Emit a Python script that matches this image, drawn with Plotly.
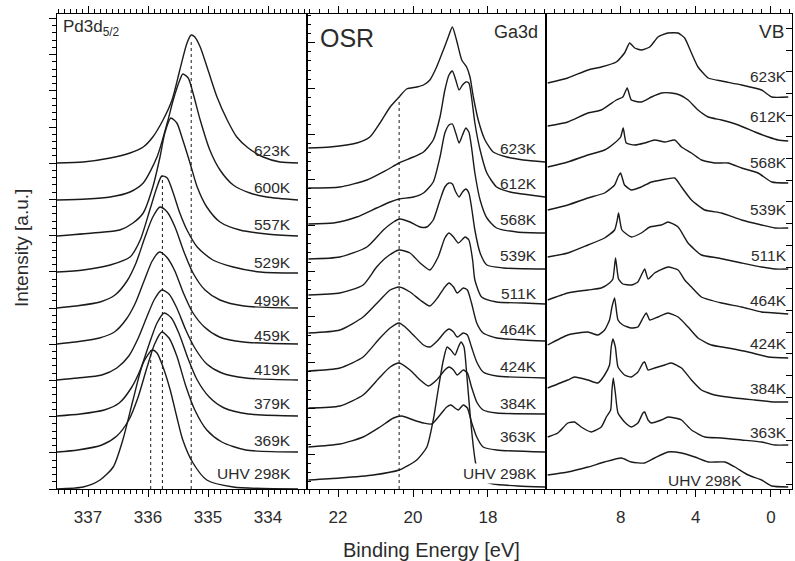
import plotly.graph_objects as go

# ---------------- Panel 1: Pd3d5/2 (binding energy eV, intensity a.u.) ----------------
pd_labels = ["623K", "600K", "557K", "529K", "499K", "459K", "419K", "379K", "369K", "UHV 298K"]

pd_623_e = [337.52, 337.08, 336.63, 336.30, 336.08, 335.92, 335.75, 335.60, 335.47, 335.35, 335.28, 335.22, 335.13, 335.00, 334.85, 334.68, 334.52, 334.33, 334.08, 333.80, 333.50]
pd_623_i = [326, 327, 331, 336, 342, 352, 369, 389, 419, 446, 454, 452, 442, 419, 392, 369, 352, 341, 332, 327, 326]
pd_600_e = [337.52, 337.02, 336.63, 336.30, 336.08, 335.85, 335.68, 335.58, 335.47, 335.42, 335.33, 335.25, 335.13, 334.97, 334.80, 334.58, 334.30, 334.02, 333.50]
pd_600_i = [289, 290, 292, 297, 306, 332, 366, 389, 409, 415, 411, 396, 369, 339, 319, 304, 296, 292, 289]
pd_557_e = [337.52, 336.92, 336.47, 336.25, 336.08, 335.92, 335.80, 335.72, 335.62, 335.52, 335.42, 335.30, 335.18, 335.02, 334.80, 334.47, 334.02, 333.50]
pd_557_i = [253, 256, 259, 266, 276, 302, 332, 356, 371, 366, 349, 326, 302, 282, 267, 259, 255, 253]
pd_529_e = [337.52, 337.08, 336.63, 336.30, 336.13, 335.97, 335.85, 335.77, 335.68, 335.58, 335.47, 335.35, 335.18, 334.92, 334.58, 334.13, 333.50]
pd_529_i = [217, 219, 224, 232, 249, 279, 302, 313, 311, 296, 276, 259, 242, 229, 222, 217, 216]
pd_499_e = [337.52, 337.20, 336.80, 336.55, 336.35, 336.20, 336.05, 335.92, 335.80, 335.68, 335.55, 335.40, 335.25, 335.05, 334.80, 334.40, 333.50]
pd_499_i = [181, 183, 187, 194, 208, 226, 252, 272, 282, 277, 262, 237, 216, 199, 189, 183, 181]
pd_459_e = [337.52, 337.21, 336.81, 336.56, 336.36, 336.21, 336.06, 335.93, 335.81, 335.69, 335.56, 335.41, 335.26, 335.06, 334.81, 334.41, 333.50]
pd_459_i = [145, 147, 151, 157, 170, 186, 209, 228, 237, 232, 219, 196, 177, 162, 152, 147, 145]
pd_419_e = [337.52, 337.17, 336.77, 336.52, 336.32, 336.17, 336.02, 335.89, 335.77, 335.65, 335.52, 335.37, 335.22, 335.02, 334.77, 334.37, 333.50]
pd_419_i = [109, 111, 114, 121, 133, 150, 172, 190, 199, 195, 181, 159, 141, 125, 116, 111, 109]
pd_379_e = [337.52, 337.13, 336.73, 336.48, 336.28, 336.13, 335.98, 335.85, 335.73, 335.61, 335.48, 335.33, 335.18, 334.98, 334.73, 334.33, 333.50]
pd_379_i = [73, 75, 79, 86, 101, 119, 145, 166, 176, 171, 155, 130, 109, 92, 81, 75, 73]
pd_369_e = [337.52, 337.17, 336.77, 336.52, 336.32, 336.17, 336.02, 335.89, 335.77, 335.65, 335.52, 335.37, 335.22, 335.02, 334.77, 334.37, 333.50]
pd_369_i = [37, 39, 44, 53, 69, 91, 121, 145, 157, 151, 133, 103, 79, 59, 47, 39, 37]
pd_uhv_e = [337.52, 337.08, 336.80, 336.58, 336.42, 336.25, 336.08, 335.93, 335.85, 335.75, 335.63, 335.52, 335.42, 335.25, 335.02, 334.58, 333.50]
pd_uhv_i = [0, 2, 9, 22, 49, 89, 126, 139, 136, 122, 99, 72, 49, 26, 9, 2, 0]

pd_ref_e = [335.955, 335.76, 335.28]
pd_ref_top = [139, 313, 450]
pd_ticks = [337, 336, 335, 334]

# ---------------- Panel 2: Ga3d ----------------
ga_labels = ["623K", "612K", "568K", "539K", "511K", "464K", "424K", "384K", "363K", "UHV 298K"]

ga_623_e = [22.79, 22.21, 21.50, 21.15, 20.88, 20.61, 20.37, 20.17, 19.90, 19.72, 19.55, 19.37, 19.19, 19.06, 18.95, 18.84, 18.70, 18.57, 18.48, 18.39, 18.26, 18.08, 17.86, 17.50, 17.06, 16.48]
ga_623_i = [341, 342, 346, 352, 366, 382, 392, 400, 402, 404, 409, 422, 439, 452, 462, 449, 429, 422, 412, 392, 369, 349, 337, 332, 329, 327]
ga_612_e = [22.79, 21.95, 21.23, 20.70, 20.37, 19.99, 19.72, 19.46, 19.28, 19.15, 19.04, 18.95, 18.86, 18.77, 18.68, 18.59, 18.51, 18.44, 18.35, 18.21, 18.03, 17.77, 17.41, 16.88, 16.48]
ga_612_i = [301, 302, 309, 319, 326, 332, 337, 349, 372, 399, 414, 418, 409, 399, 404, 407, 406, 392, 366, 339, 316, 302, 297, 294, 292]
ga_568_e = [22.79, 22.12, 21.50, 20.97, 20.61, 20.37, 19.99, 19.72, 19.46, 19.28, 19.15, 19.04, 18.95, 18.86, 18.77, 18.68, 18.59, 18.51, 18.44, 18.35, 18.21, 18.03, 17.77, 17.23, 16.48]
ga_568_i = [265, 266, 272, 281, 287, 290, 292, 296, 307, 332, 356, 364, 365, 356, 346, 354, 361, 357, 342, 316, 289, 271, 261, 257, 256]
ga_539_e = [22.79, 21.95, 21.23, 20.79, 20.52, 20.35, 20.08, 19.81, 19.63, 19.46, 19.28, 19.15, 19.04, 18.95, 18.86, 18.77, 18.68, 18.59, 18.51, 18.44, 18.35, 18.21, 18.03, 17.59, 16.48]
ga_539_i = [230, 232, 242, 259, 267, 270, 267, 262, 262, 269, 289, 302, 306, 305, 297, 292, 297, 300, 296, 282, 259, 236, 224, 221, 220]
ga_511_e = [22.79, 21.95, 21.33, 20.97, 20.70, 20.37, 20.08, 19.81, 19.55, 19.33, 19.15, 19.04, 18.92, 18.79, 18.61, 18.51, 18.41, 18.35, 18.17, 17.77, 17.06, 16.48]
ga_511_i = [194, 196, 204, 222, 232, 239, 236, 226, 219, 232, 251, 256, 252, 246, 252, 249, 229, 209, 192, 187, 186, 185]
ga_464_e = [22.79, 21.95, 21.33, 20.88, 20.61, 20.37, 20.08, 19.81, 19.55, 19.33, 19.15, 19.04, 18.92, 18.82, 18.66, 18.55, 18.44, 18.30, 18.13, 17.77, 17.06, 16.48]
ga_464_i = [156, 159, 172, 189, 199, 202, 197, 189, 183, 192, 202, 206, 202, 196, 201, 199, 186, 166, 156, 151, 149, 148]
ga_424_e = [22.79, 21.95, 21.33, 20.88, 20.61, 20.37, 20.21, 19.99, 19.72, 19.55, 19.33, 19.15, 19.04, 18.92, 18.82, 18.66, 18.55, 18.44, 18.30, 18.13, 17.77, 16.48]
ga_424_i = [118, 121, 132, 151, 161, 166, 162, 154, 144, 142, 149, 157, 160, 157, 152, 156, 154, 142, 127, 117, 113, 111]
ga_384_e = [22.79, 21.95, 21.33, 20.88, 20.61, 20.37, 20.08, 19.81, 19.59, 19.37, 19.15, 19.04, 18.92, 18.82, 18.66, 18.55, 18.44, 18.30, 18.13, 17.77, 16.48]
ga_384_i = [81, 83, 94, 112, 122, 126, 119, 109, 103, 109, 119, 122, 119, 114, 119, 116, 102, 87, 79, 76, 75]
ga_363_e = [22.79, 21.95, 21.33, 20.88, 20.52, 20.30, 19.99, 19.72, 19.50, 19.28, 19.10, 18.99, 18.88, 18.79, 18.66, 18.55, 18.44, 18.30, 18.13, 17.77, 16.48]
ga_363_i = [42, 45, 52, 62, 71, 73, 69, 66, 65, 74, 82, 84, 81, 79, 84, 81, 67, 52, 42, 39, 37]
ga_uhv_e = [22.79, 21.95, 21.06, 20.37, 19.90, 19.63, 19.46, 19.33, 19.19, 19.09, 18.99, 18.88, 18.79, 18.72, 18.64, 18.57, 18.48, 18.39, 18.33, 18.25, 18.10, 17.86, 17.20, 16.48]
ga_uhv_i = [9, 11, 14, 19, 29, 42, 69, 99, 129, 142, 139, 134, 142, 147, 142, 116, 76, 42, 26, 15, 8, 5, 3, 2]

ga_ref_e = [20.37]
ga_ref_top = [389]
ga_ticks = [22, 20, 18]

# ---------------- Panel 3: VB ----------------
vb_labels = ["623K", "612K", "568K", "539K", "511K", "464K", "424K", "384K", "363K", "UHV 298K"]

vb_623_e = [11.88, 10.81, 9.74, 9.03, 8.23, 7.79, 7.52, 7.25, 6.90, 6.45, 6.01, 5.48, 4.94, 4.59, 4.23, 3.88, 3.34, 2.63, 1.56, 0.50, -0.04, -0.92]
vb_623_i = [406, 411, 419, 422, 427, 436, 446, 441, 439, 442, 452, 456, 456, 451, 436, 422, 411, 408, 404, 399, 392, 392]
vb_612_e = [11.88, 10.81, 9.74, 9.03, 8.23, 7.88, 7.65, 7.43, 6.90, 6.36, 5.83, 5.30, 4.85, 4.41, 3.88, 3.34, 2.63, 1.74, 0.85, 0.14, -0.39, -0.92]
vb_612_i = [363, 367, 376, 379, 389, 392, 401, 389, 387, 392, 396, 396, 394, 389, 379, 372, 369, 364, 357, 352, 349, 348]
vb_568_e = [11.88, 10.81, 9.74, 8.85, 8.32, 8.00, 7.86, 7.70, 7.25, 6.72, 6.19, 5.65, 5.12, 4.76, 4.23, 3.70, 2.99, 2.28, 1.56, 0.68, -0.04, -0.92]
vb_568_i = [322, 327, 334, 339, 346, 352, 361, 346, 344, 346, 349, 347, 349, 342, 336, 329, 326, 326, 321, 316, 307, 306]
vb_539_e = [11.88, 10.81, 9.74, 8.85, 8.32, 8.14, 8.00, 7.79, 7.43, 6.90, 6.36, 5.83, 5.12, 4.76, 4.23, 3.52, 2.63, 1.56, 0.50, -0.21, -0.92]
vb_539_i = [279, 284, 291, 296, 304, 312, 316, 304, 299, 302, 307, 309, 311, 302, 289, 279, 276, 269, 264, 261, 261]
vb_511_e = [11.88, 10.81, 9.74, 8.85, 8.32, 8.18, 8.11, 7.93, 7.43, 6.90, 6.45, 5.83, 5.48, 4.94, 4.41, 3.70, 2.81, 1.56, 0.50, -0.21, -0.92]
vb_511_i = [232, 236, 244, 251, 259, 269, 276, 259, 252, 256, 262, 264, 267, 262, 246, 234, 231, 226, 222, 220, 220]
vb_464_e = [11.88, 10.81, 9.74, 9.03, 8.59, 8.41, 8.27, 8.11, 7.88, 7.43, 7.08, 6.72, 6.54, 6.19, 5.48, 4.94, 4.59, 4.23, 3.70, 2.63, 1.56, 0.50, -0.21, -0.92]
vb_464_i = [189, 196, 199, 201, 206, 210, 231, 210, 205, 204, 207, 220, 210, 216, 222, 219, 209, 202, 192, 186, 182, 177, 176, 175]
vb_424_e = [11.88, 10.81, 9.74, 9.21, 8.85, 8.59, 8.46, 8.32, 8.14, 7.88, 7.43, 7.08, 6.81, 6.63, 6.45, 6.01, 5.48, 4.94, 4.41, 3.88, 3.17, 2.28, 1.21, 0.14, -0.92]
vb_424_i = [144, 154, 157, 154, 159, 169, 182, 191, 169, 164, 161, 162, 171, 176, 169, 172, 176, 172, 162, 151, 144, 141, 137, 132, 131]
vb_384_e = [11.88, 10.81, 10.45, 9.74, 9.21, 8.85, 8.59, 8.50, 8.41, 8.28, 8.14, 7.79, 7.43, 7.08, 6.81, 6.72, 6.54, 6.19, 5.65, 5.30, 4.76, 4.23, 3.70, 2.99, 1.92, 0.85, -0.21, -0.92]
vb_384_i = [101, 109, 112, 109, 106, 114, 124, 142, 150, 142, 122, 114, 112, 117, 126, 127, 119, 121, 124, 126, 121, 109, 99, 94, 91, 89, 87, 87]
vb_363_e = [11.88, 11.34, 10.81, 10.45, 10.10, 9.56, 9.03, 8.76, 8.53, 8.46, 8.39, 8.28, 8.14, 7.79, 7.43, 7.08, 6.81, 6.72, 6.54, 6.36, 5.83, 5.48, 5.12, 4.76, 4.23, 3.52, 2.63, 1.56, 0.50, -0.21, -0.92]
vb_363_i = [52, 56, 66, 67, 62, 57, 62, 72, 79, 99, 111, 96, 76, 67, 62, 66, 76, 77, 69, 66, 69, 72, 71, 69, 59, 52, 51, 49, 47, 44, 44]
vb_uhv_e = [11.88, 10.81, 9.74, 8.85, 7.96, 7.43, 6.72, 6.19, 5.48, 4.76, 4.05, 3.34, 2.45, 1.92, 1.21, 0.50, -0.04, -0.92]
vb_uhv_i = [14, 17, 22, 27, 31, 27, 26, 31, 37, 36, 32, 27, 27, 22, 14, 9, 3, 2]

vb_ticks = [8, 4, 0]

# ---------------- assemble ----------------
pd_curves = [(pd_623_e, pd_623_i), (pd_600_e, pd_600_i), (pd_557_e, pd_557_i), (pd_529_e, pd_529_i),
             (pd_499_e, pd_499_i), (pd_459_e, pd_459_i), (pd_419_e, pd_419_i), (pd_379_e, pd_379_i),
             (pd_369_e, pd_369_i), (pd_uhv_e, pd_uhv_i)]
ga_curves = [(ga_623_e, ga_623_i), (ga_612_e, ga_612_i), (ga_568_e, ga_568_i), (ga_539_e, ga_539_i),
             (ga_511_e, ga_511_i), (ga_464_e, ga_464_i), (ga_424_e, ga_424_i), (ga_384_e, ga_384_i),
             (ga_363_e, ga_363_i), (ga_uhv_e, ga_uhv_i)]
vb_curves = [(vb_623_e, vb_623_i), (vb_612_e, vb_612_i), (vb_568_e, vb_568_i), (vb_539_e, vb_539_i),
             (vb_511_e, vb_511_i), (vb_464_e, vb_464_i), (vb_424_e, vb_424_i), (vb_384_e, vb_384_i),
             (vb_363_e, vb_363_i), (vb_uhv_e, vb_uhv_i)]

LINE = "#1a1a1a"
TXT = "#2b2b2b"
FONT = "Liberation Sans, Arial, Helvetica, sans-serif"

fig = go.Figure()

def add_curves(curves, xa, ya, smooth):
    for e, i in curves:
        fig.add_trace(go.Scatter(x=e, y=i, mode="lines", xaxis=xa, yaxis=ya,
                                 line=dict(color=LINE, width=1.4, shape="spline", smoothing=smooth),
                                 showlegend=False, hoverinfo="skip"))

def add_refs(es, tops, xa, ya):
    for e, t in zip(es, tops):
        fig.add_trace(go.Scatter(x=[e, e], y=[0, t], mode="lines", xaxis=xa, yaxis=ya,
                                 line=dict(color=LINE, width=1, dash="dot"),
                                 showlegend=False, hoverinfo="skip"))

add_refs(pd_ref_e, pd_ref_top, "x", "y")
add_refs(ga_ref_e, ga_ref_top, "x2", "y2")
add_curves(pd_curves, "x", "y", 0.7)
add_curves(ga_curves, "x2", "y2", 0.6)
add_curves(vb_curves, "x3", "y3", 0.5)

W, H = 795, 561
ydom = [(H - 489) / H, (H - 14) / H]

def xax(dom, rng, tickvals, mdtick, anchor):
    return dict(domain=dom, range=rng, anchor=anchor, tickmode="array", tickvals=tickvals,
                ticktext=[str(v) for v in tickvals],
                ticks="outside", ticklen=7, tickwidth=1, tickcolor="black",
                showline=True, linecolor="black", linewidth=1, mirror="ticks",
                showgrid=False, zeroline=False, ticklabelstandoff=6,
                tickfont=dict(family=FONT, size=17, color=TXT),
                minor=dict(dtick=mdtick, tick0=0, ticks="outside", ticklen=4,
                           tickcolor="black", showgrid=False))

fig.update_layout(
    width=W, height=H, plot_bgcolor="white", paper_bgcolor="white",
    margin=dict(l=0, r=0, t=0, b=0, autoexpand=False),
    showlegend=False,
    xaxis=xax([57 / W, 307 / W], [337.517, 333.35], pd_ticks, 0.1, "y"),
    xaxis2=xax([307 / W, 546 / W], [22.827, 16.453], ga_ticks, 0.25, "y2"),
    xaxis3=xax([546 / W, 792 / W], [11.97, -1.12], vb_ticks, 0.5, "y3"),
    yaxis=dict(domain=ydom, range=[0, 475], anchor="x", showticklabels=False,
               ticks="outside", ticklen=7, tickcolor="black", tick0=0, dtick=36.2,
               minor=dict(dtick=7.24, tick0=0, ticks="outside", ticklen=4, tickcolor="black"),
               showline=True, linecolor="black", linewidth=1, mirror=True,
               showgrid=False, zeroline=False),
    yaxis2=dict(domain=ydom, range=[0, 475], anchor="x2", showticklabels=False,
                ticks="inside", ticklen=8, tickcolor="black", tick0=35, dtick=45.7,
                minor=dict(dtick=9.14, tick0=35, ticks="inside", ticklen=4, tickcolor="black"),
                showline=True, linecolor="black", linewidth=1, mirror=True,
                showgrid=False, zeroline=False),
    yaxis3=dict(domain=ydom, range=[0, 475], anchor="x3", side="right", showticklabels=False,
                ticks="inside", ticklen=6, tickcolor="black", tick0=5, dtick=21.7,
                showline=True, linecolor="black", linewidth=1, mirror=True,
                showgrid=False, zeroline=False),
)

ann = []
# curve labels
pd_lab_y = [338, 301, 264, 227, 189, 154, 120, 86, 49, 16]
ga_lab_y = [340, 305, 269, 233, 196, 160, 123, 86, 53, 16]
vb_lab_y = [412, 372, 326, 279, 233, 189, 146, 101, 57]
lab_font = dict(family=FONT, size=15.5, color=TXT)
for t, y in zip(pd_labels, pd_lab_y):
    ann.append(dict(x=333.583, y=y, xref="x", yref="y", text=t, showarrow=False, xanchor="right",
                    yanchor="middle", font=lab_font))
for t, y in zip(ga_labels[:-1], ga_lab_y[:-1]):
    ann.append(dict(x=16.64, y=y, xref="x2", yref="y2", text=t, showarrow=False, xanchor="right",
                    yanchor="middle", font=lab_font))
ann.append(dict(x=16.64, y=ga_lab_y[-1], xref="x2", yref="y2", text=ga_labels[-1], showarrow=False,
                xanchor="right", yanchor="middle", font=lab_font, bgcolor="white", borderpad=1))
for t, y in zip(vb_labels[:-1], vb_lab_y):
    ann.append(dict(x=-0.96, y=y, xref="x3", yref="y3", text=t, showarrow=False, xanchor="right",
                    yanchor="middle", font=lab_font))
ann.append(dict(x=3.52, y=9, xref="x3", yref="y3", text=vb_labels[-1], showarrow=False,
                xanchor="center", yanchor="middle", font=lab_font))

# panel titles
ann.append(dict(x=61 / W, y=(H - 28) / H, xref="paper", yref="paper", text="Pd3d<sub>5/2</sub>",
                showarrow=False, xanchor="left", yanchor="middle", font=dict(family=FONT, size=17, color=TXT)))
ann.append(dict(x=318 / W, y=(H - 38) / H, xref="paper", yref="paper", text="OSR",
                showarrow=False, xanchor="left", yanchor="middle", font=dict(family=FONT, size=25, color=TXT)))
ann.append(dict(x=540 / W, y=(H - 32) / H, xref="paper", yref="paper", text="Ga3d",
                showarrow=False, xanchor="right", yanchor="middle", font=dict(family=FONT, size=18, color=TXT)))
ann.append(dict(x=786 / W, y=(H - 32) / H, xref="paper", yref="paper", text="VB",
                showarrow=False, xanchor="right", yanchor="middle", font=dict(family=FONT, size=19, color=TXT)))
# axis titles
ann.append(dict(x=431 / W, y=(H - 550) / H, xref="paper", yref="paper", text="Binding Energy [eV]",
                showarrow=False, xanchor="center", yanchor="middle", font=dict(family=FONT, size=20, color=TXT)))
ann.append(dict(x=22 / W, y=(H - 248) / H, xref="paper", yref="paper", text="Intensity [a.u.]",
                showarrow=False, xanchor="center", yanchor="middle", textangle=-90,
                font=dict(family=FONT, size=19, color=TXT)))

fig.update_layout(annotations=ann)
fig.write_html("out.html", config={"displayModeBar": False},
               post_script="document.body.style.margin='0';document.body.style.overflow='hidden';")
